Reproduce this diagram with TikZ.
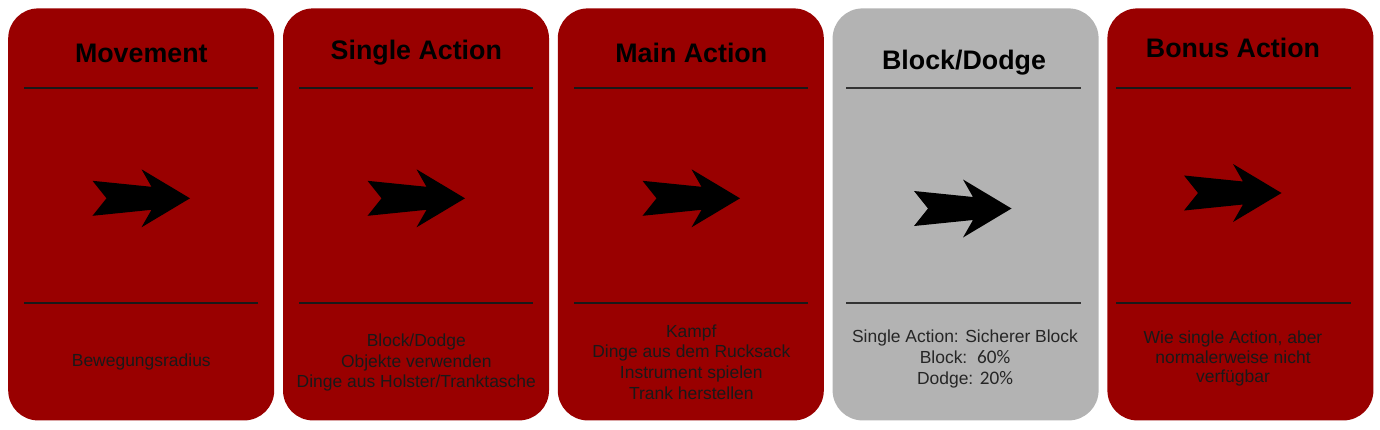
\documentclass[tikz,border=0pt]{standalone}
\usepackage{fontspec}
\setmainfont{Liberation Sans}
\newfontfamily\numfont{Carlito}
\usetikzlibrary{positioning}
\definecolor{cardred}{HTML}{990000}
\definecolor{cardgray}{HTML}{B3B3B3}
\tikzset{
    card/.style={rectangle, rounded corners=22.5pt, minimum width=199.5pt, minimum height=309pt, inner sep=0pt, outer sep=0pt},
    redcard/.style={card, fill=cardred},
    graycard/.style={card, fill=cardgray},
    title/.style={font=\bfseries\fontsize{20.1}{23}\selectfont, text=black},
    body/.style={align=center, font=\fontsize{13.1}{15.4}\selectfont, text=black!90},
    rule/.style={line width=1.5pt, black!90},
    pics/fatarrow/.style={code={
        \fill[black] (-49,-17.5) -- (-35,0) -- (-49,17.5) -- (10,11.5) -- (0,29)
            -- (48.5,0) -- (0,-29) -- (10,-11.5) -- cycle;
    }}
}

\begin{document}
\begin{tikzpicture}[x=0.75pt, y=-0.75pt, node distance=6.6pt]
        \useasboundingbox (0,0) rectangle (1380,429);

        % cards
        \node[redcard] (move) at (141.2,214.4) {};
        \node[redcard, right=of move] (single) {};
        \node[redcard, right=of single] (main) {};
        \node[graycard, right=of main] (block) {};
        \node[redcard, right=of block] (bonus) {};

        % headings
        \node[title] (movetitle) at (141.3,53) {Movement};
        \node[title] (singletitle) at (416.3,53) {Single Action};
        \node[title] (maintitle) at (691.3,53) {Main Action};
        \node[title] (blocktitle) at (964,63) {Block/Dodge};
        \node[title] (bonustitle) at (1233,48) {Bonus Action};

        % separators
        \draw[rule] (24,88) -- (258,88);
        \draw[rule] (24,302.5) -- (258,302.5);
        \draw[rule] (299,88) -- (533,88);
        \draw[rule] (299,302.5) -- (533,302.5);
        \draw[rule] (574,88) -- (808,88);
        \draw[rule] (574,302.5) -- (808,302.5);
        \draw[rule, black!80] (846,88) -- (1081,88);
        \draw[rule, black!80] (846,302.5) -- (1081,302.5);
        \draw[rule] (1116,88) -- (1351,88);
        \draw[rule] (1116,302.5) -- (1351,302.5);

        % arrows
        \pic at (141.5,198.3) {fatarrow};
        \pic at (416.5,198.3) {fatarrow};
        \pic at (691.5,198.3) {fatarrow};
        \pic at (963,208.5) {fatarrow};
        \pic at (1233,193) {fatarrow};

        % texts
        \node[body] (movetext) at (141.3,362) {Bewegungsradius};
        \node[body] (singletext) at (416.3,362.5) {Block/Dodge\\Objekte verwenden\\Dinge aus Holster/Tranktasche};
        \node[body] (maintext) at (691.3,362) {Kampf\\Dinge aus dem Rucksack\\Instrument spielen\\Trank herstellen};
        \node[body, text=black!85] (blocktext) at (965,359) {Single Action: Sicherer Block\\Block:\ \ {\numfont\fontsize{14.4}{15.4}\selectfont 60\%}\\Dodge: {\numfont\fontsize{14.4}{15.4}\selectfont 20\%}};
        \node[body, font=\fontsize{13.1}{14.5}\selectfont] (bonustext) at (1233,358.5) {Wie single Action, aber\\normalerweise nicht\\verfügbar};
    \end{tikzpicture}
\end{document}
